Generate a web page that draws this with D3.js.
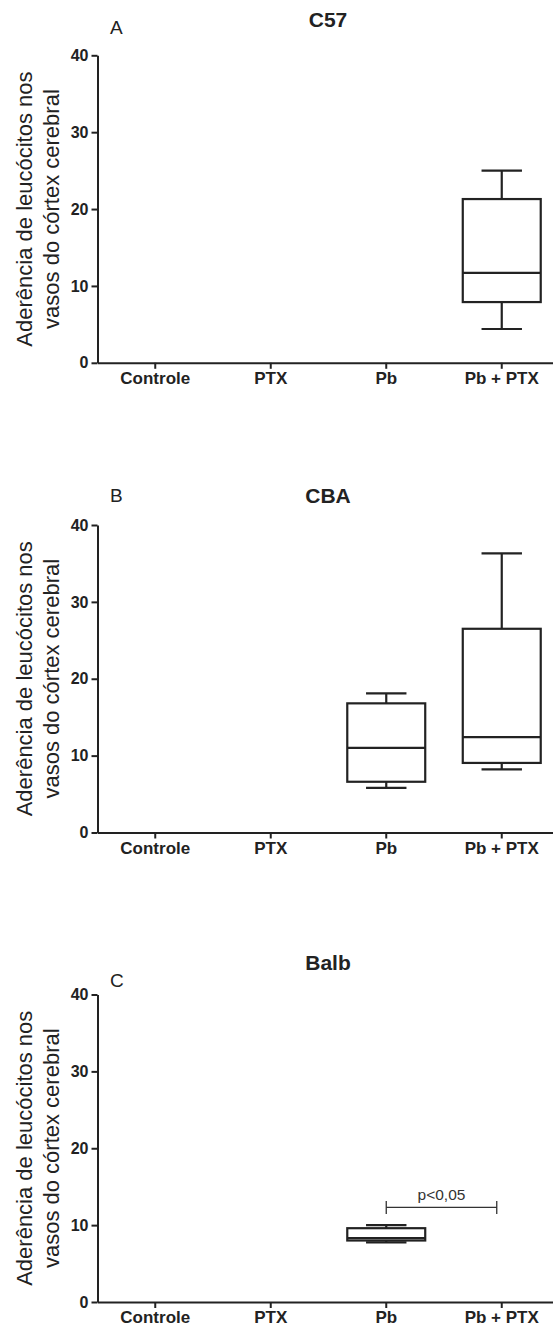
<!DOCTYPE html>
<html>
<head>
<meta charset="utf-8">
<script src="https://cdn.jsdelivr.net/npm/d3@7"></script>
<style>
  body { margin: 0; background: #fff; }
  svg { display: block; font-family: Arial, "Liberation Sans", sans-serif; }
</style>
</head>
<body>
<svg id="chart" width="553" height="1329"></svg>
<script>
const categories = ["Controle", "PTX", "Pb", "Pb + PTX"];
const panelLetters = ["A", "B", "C"];
const panelTitles = ["C57", "CBA", "Balb"];
const yTicks = [0, 10, 20, 30, 40];
const yTitle = ["Aderência de leucócitos nos", "vasos do córtex cerebral"];

// box stats (min, q1, median, q3, max)
const c57Stats = [
    {group: "Pb + PTX", min: 4.4, q1: 7.9, median: 11.7, q3: 21.3, max: 25}
];
const cbaStats = [
    {group: "Pb", min: 5.8, q1: 6.6, median: 11.0, q3: 16.8, max: 18.1},
    {group: "Pb + PTX", min: 8.2, q1: 9.05, median: 12.4, q3: 26.5, max: 36.3}
];
const balbStats = [
    {group: "Pb", min: 7.75, q1: 8.0, median: 8.3, q3: 9.6, max: 10.0}
];
const balbSignif = [{from: "Pb", to: "Pb + PTX", value: 12.3, label: "p<0,05"}];

const panels = [
    {top: 55.3, stats: c57Stats, signif: [], letterDy: -21, titleDy: -28},
    {top: 525, stats: cbaStats, signif: [], letterDy: -23, titleDy: -22},
    {top: 994.5, stats: balbStats, signif: balbSignif, letterDy: -8, titleDy: -25}
];

const svg = d3.select("#chart");
const left = 97.5, plotH = 307.5, ink = "#222";

const x = d3.scaleBand().domain(categories).range([left, left + 4 * 115.5]).padding(0);

panels.forEach((p, i) => {
    const y = d3.scaleLinear().domain([0, 40]).range([p.top + plotH, p.top]);
    const g = svg.append("g");

    // y axis
    const ya = g.append("g")
        .attr("transform", "translate(" + left + ",0)")
        .call(d3.axisLeft(y).tickValues(yTicks).tickSize(6).tickPadding(3).tickSizeOuter(0));
    ya.select(".domain").attr("stroke", ink).attr("stroke-width", 2);
    ya.selectAll(".tick line").attr("stroke", ink).attr("stroke-width", 2);
    ya.selectAll(".tick text").attr("fill", ink)
        .attr("font-family", "Arial, 'Liberation Sans', sans-serif")
        .attr("font-size", "16px").attr("font-weight", "bold");

    // x axis
    const xa = g.append("g")
        .attr("transform", "translate(0," + (p.top + plotH) + ")")
        .call(d3.axisBottom(x).tickSize(6).tickPadding(3).tickSizeOuter(0));
    xa.select(".domain").attr("stroke", ink).attr("stroke-width", 2);
    xa.selectAll(".tick line").attr("stroke", ink).attr("stroke-width", 2);
    xa.selectAll(".tick text").attr("fill", ink)
        .attr("font-family", "Arial, 'Liberation Sans', sans-serif")
        .attr("font-size", "17px").attr("font-weight", "bold");

    // y title, two lines
    g.append("text")
        .attr("transform", "translate(32," + (p.top + plotH / 2) + ") rotate(-90)")
        .attr("text-anchor", "middle")
        .attr("font-size", "22px")
        .attr("fill", ink)
        .text(yTitle[0]);
    g.append("text")
        .attr("transform", "translate(59," + (p.top + plotH / 2) + ") rotate(-90)")
        .attr("text-anchor", "middle")
        .attr("font-size", "22px")
        .attr("fill", ink)
        .text(yTitle[1]);

    // panel letter and title
    g.append("text")
        .attr("x", 110).attr("y", p.top + p.letterDy)
        .attr("font-size", "19px").attr("fill", ink)
        .text(panelLetters[i]);
    g.append("text")
        .attr("x", 328).attr("y", p.top + p.titleDy)
        .attr("text-anchor", "middle")
        .attr("font-size", "21px").attr("font-weight", "bold").attr("fill", ink)
        .text(panelTitles[i]);

    // boxes
    const bw = x.bandwidth() * 0.675, cw = x.bandwidth() * 0.35;
    const boxes = g.selectAll(".box").data(p.stats).enter().append("g")
        .attr("stroke", ink).attr("stroke-width", 2.2).attr("fill", "none");

    boxes.append("line")
        .attr("x1", d => x(d.group) + x.bandwidth() / 2)
        .attr("x2", d => x(d.group) + x.bandwidth() / 2)
        .attr("y1", d => y(d.max)).attr("y2", d => y(d.q3));
    boxes.append("line")
        .attr("x1", d => x(d.group) + x.bandwidth() / 2)
        .attr("x2", d => x(d.group) + x.bandwidth() / 2)
        .attr("y1", d => y(d.q1)).attr("y2", d => y(d.min));
    boxes.append("line")
        .attr("x1", d => x(d.group) + (x.bandwidth() - cw) / 2)
        .attr("x2", d => x(d.group) + (x.bandwidth() + cw) / 2)
        .attr("y1", d => y(d.max)).attr("y2", d => y(d.max));
    boxes.append("line")
        .attr("x1", d => x(d.group) + (x.bandwidth() - cw) / 2)
        .attr("x2", d => x(d.group) + (x.bandwidth() + cw) / 2)
        .attr("y1", d => y(d.min)).attr("y2", d => y(d.min));
    boxes.append("rect")
        .attr("x", d => x(d.group) + (x.bandwidth() - bw) / 2)
        .attr("y", d => y(d.q3))
        .attr("width", bw)
        .attr("height", d => y(d.q1) - y(d.q3))
        .attr("fill", "#fff");
    boxes.append("line")
        .attr("x1", d => x(d.group) + (x.bandwidth() - bw) / 2)
        .attr("x2", d => x(d.group) + (x.bandwidth() + bw) / 2)
        .attr("y1", d => y(d.median)).attr("y2", d => y(d.median));

    // significance bracket
    const sig = g.selectAll(".sig").data(p.signif).enter().append("g");
    sig.append("path")
        .attr("d", d => {
            const x1 = x(d.from) + x.bandwidth() / 2, x2 = x(d.to) + x.bandwidth() / 2 - 5, yy = y(d.value);
            return "M" + x1 + "," + (yy - 6.5) + "V" + (yy + 6.5) + "M" + x1 + "," + yy + "H" + x2 +
                "M" + x2 + "," + (yy - 6.5) + "V" + (yy + 6.5);
        })
        .attr("stroke", "#333").attr("stroke-width", 1.3).attr("fill", "none");
    sig.append("text")
        .attr("x", d => (x(d.from) + x(d.to) + x.bandwidth() - 5) / 2)
        .attr("y", d => y(d.value) - 7)
        .attr("text-anchor", "middle")
        .attr("font-size", "15.5px").attr("fill", "#333")
        .text(d => d.label);
});
</script>
</body>
</html>
